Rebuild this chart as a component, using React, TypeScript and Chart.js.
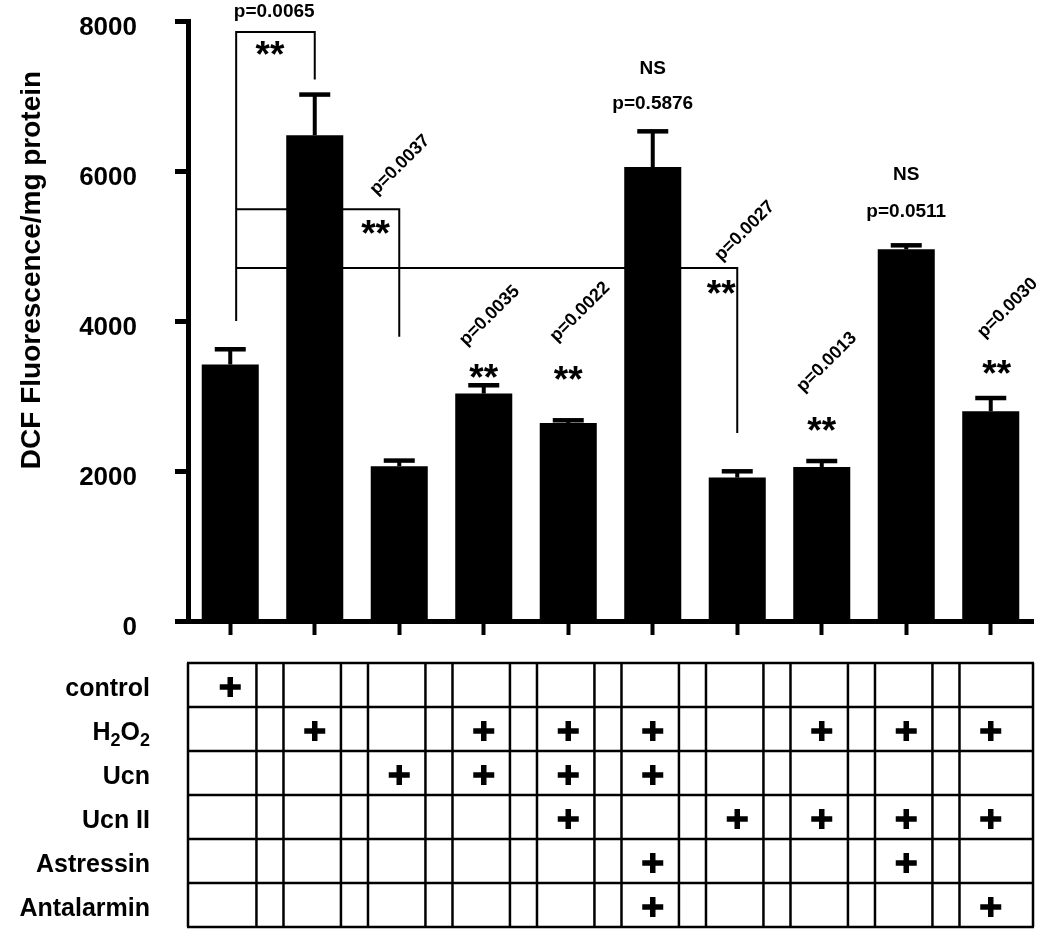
import React, { useEffect, useRef } from 'react';
import { Chart, registerables } from 'chart.js';

Chart.register(...registerables);

// ---------- data ----------
const categories = [
  'control',
  'H2O2',
  'Ucn',
  'H2O2+Ucn',
  'H2O2+Ucn+UcnII',
  'H2O2+Ucn+Astressin+Antalarmin',
  'UcnII',
  'H2O2+UcnII',
  'H2O2+UcnII+Astressin',
  'H2O2+UcnII+Antalarmin',
];
const means = [3420, 6476, 2063, 3032, 2640, 6053, 1912, 2053, 4956, 2796];
const sems = [203, 543, 76, 111, 36, 476, 84, 80, 53, 177];
const yTickValues = [0, 2000, 4000, 6000, 8000];
const yTitle = 'DCF Fluorescence/mg protein';

const rowLabels = ['control', 'H2O2', 'Ucn', 'Ucn II', 'Astressin', 'Antalarmin'];
const controlRow = [1, 0, 0, 0, 0, 0, 0, 0, 0, 0];
const h2o2Row = [0, 1, 0, 1, 1, 1, 0, 1, 1, 1];
const ucnRow = [0, 0, 1, 1, 1, 1, 0, 0, 0, 0];
const ucn2Row = [0, 0, 0, 0, 1, 0, 1, 1, 1, 1];
const astressinRow = [0, 0, 0, 0, 0, 1, 0, 0, 1, 0];
const antalarminRow = [0, 0, 0, 0, 0, 1, 0, 0, 0, 1];
const treatmentRows = [controlRow, h2o2Row, ucnRow, ucn2Row, astressinRow, antalarminRow];

// annotations: "at" = category index (fractional), "value" = y in data units
const pRotated = [
  { text: 'p=0.0037', at: 2.01, value: 6080 },
  { text: 'p=0.0035', at: 3.07, value: 4070 },
  { text: 'p=0.0022', at: 4.14, value: 4120 },
  { text: 'p=0.0027', at: 6.09, value: 5200 },
  { text: 'p=0.0013', at: 7.06, value: 3450 },
  { text: 'p=0.0030', at: 9.2, value: 4173 },
];
const pFlat = [
  { text: 'p=0.0065', at: 0.52, value: 8120 },
  { text: 'NS', at: 5.0, value: 7360 },
  { text: 'p=0.5876', at: 5.0, value: 6893 },
  { text: 'NS', at: 8.0, value: 5947 },
  { text: 'p=0.0511', at: 8.0, value: 5453 },
];
const stars = [
  { at: 0.47, value: 7640 },
  { at: 1.72, value: 5253 },
  { at: 5.81, value: 4453 },
  { at: 3.0, value: 3333 },
  { at: 4.0, value: 3307 },
  { at: 7.0, value: 2627 },
  { at: 9.07, value: 3387 },
];
const brackets = [
  [[0.07, 4000], [0.07, 7853], [1, 7853], [1, 7220]],
  [[0.07, 5490], [2, 5490], [2, 3790]],
  [[0.07, 4707], [6, 4707], [6, 2507]],
];

const FONT = "'Liberation Sans', Arial, Helvetica, sans-serif";

const overlayPlugin = {
  id: 'overlay',
  afterDatasetsDraw(chart: any) {
    const ctx = chart.ctx;
    const xs = chart.scales.x;
    const ys = chart.scales.y;
    const step = xs.getPixelForValue(1) - xs.getPixelForValue(0);
    const px = (idx: number) => xs.getPixelForValue(0) + idx * step;
    const py = (v: number) => ys.getPixelForValue(v);

    ctx.save();
    // error bars
    const meta = chart.getDatasetMeta(0);
    ctx.strokeStyle = '#000';
    ctx.lineCap = 'butt';
    meta.data.forEach((bar: any, i: number) => {
      const x = bar.x;
      const yTop = py(means[i]);
      const yErr = py(means[i] + sems[i]);
      ctx.lineWidth = 4;
      ctx.beginPath();
      ctx.moveTo(x, yTop);
      ctx.lineTo(x, yErr);
      ctx.stroke();
      ctx.lineWidth = 4.5;
      ctx.beginPath();
      ctx.moveTo(x - 15.5, yErr);
      ctx.lineTo(x + 15.5, yErr);
      ctx.stroke();
    });

    // brackets
    ctx.lineWidth = 2;
    brackets.forEach((pts) => {
      ctx.beginPath();
      pts.forEach((p, k) => {
        const X = px(p[0]);
        const Y = py(p[1]);
        if (k === 0) ctx.moveTo(X, Y);
        else ctx.lineTo(X, Y);
      });
      ctx.stroke();
    });

    ctx.fillStyle = '#000';
    // flat labels
    ctx.font = `bold 19px ${FONT}`;
    ctx.textAlign = 'center';
    ctx.textBaseline = 'middle';
    pFlat.forEach((l) => ctx.fillText(l.text, px(l.at), py(l.value)));

    // rotated labels
    ctx.font = `bold 18px ${FONT}`;
    pRotated.forEach((l) => {
      ctx.save();
      ctx.translate(px(l.at), py(l.value));
      ctx.rotate(-Math.PI / 4);
      ctx.fillText(l.text, 0, 0);
      ctx.restore();
    });

    // stars
    ctx.font = `bold 37px ${FONT}`;
    ctx.textBaseline = 'alphabetic';
    const m = ctx.measureText('**');
    const shift = (m.actualBoundingBoxAscent - m.actualBoundingBoxDescent) / 2;
    stars.forEach((s) => ctx.fillText('**', px(s.at), py(s.value) + shift));
    ctx.restore();
  },
  afterDraw(chart: any) {
    const ctx = chart.ctx;
    const xs = chart.scales.x;
    const area = chart.chartArea;
    const step = xs.getPixelForValue(1) - xs.getPixelForValue(0);
    const top = 663;
    const rowH = 44;
    const nRows = rowLabels.length;
    const bottom = top + rowH * nRows;

    ctx.save();
    ctx.strokeStyle = '#000';
    ctx.lineWidth = 2.5;
    // horizontal lines
    for (let r = 0; r <= nRows; r++) {
      const y = top + r * rowH;
      ctx.beginPath();
      ctx.moveTo(area.left - 1, y);
      ctx.lineTo(area.right + 1, y);
      ctx.stroke();
    }
    // vertical lines
    const vx: number[] = [area.left, area.right];
    categories.forEach((_, i) => {
      const c = xs.getPixelForValue(i);
      if (i > 0) vx.push(c - 0.37 * step);
      if (i < categories.length - 1) vx.push(c + 0.31 * step);
    });
    vx.forEach((x) => {
      ctx.beginPath();
      ctx.moveTo(x, top);
      ctx.lineTo(x, bottom);
      ctx.stroke();
    });

    // plus signs
    ctx.lineWidth = 5.5;
    treatmentRows.forEach((row, r) => {
      const cy = top + r * rowH + rowH / 2 + 2;
      row.forEach((on, i) => {
        if (!on) return;
        const cx = xs.getPixelForValue(i);
        ctx.beginPath();
        ctx.moveTo(cx - 10.5, cy);
        ctx.lineTo(cx + 10.5, cy);
        ctx.moveTo(cx, cy - 10);
        ctx.lineTo(cx, cy + 10);
        ctx.stroke();
      });
    });

    // row labels
    ctx.fillStyle = '#000';
    ctx.textBaseline = 'alphabetic';
    const labelRight = 150;
    rowLabels.forEach((lab, r) => {
      const base = top + r * rowH + rowH / 2 + 11;
      if (lab === 'H2O2') {
        const parts: [string, boolean][] = [['H', false], ['2', true], ['O', false], ['2', true]];
        const big = `bold 25px ${FONT}`;
        const small = `bold 18px ${FONT}`;
        let w = 0;
        parts.forEach(([t, sub]) => {
          ctx.font = sub ? small : big;
          w += ctx.measureText(t).width;
        });
        let x = labelRight - w;
        ctx.textAlign = 'left';
        parts.forEach(([t, sub]) => {
          ctx.font = sub ? small : big;
          ctx.fillText(t, x, base + (sub ? 6 : 0));
          x += ctx.measureText(t).width;
        });
      } else {
        ctx.font = `bold 25px ${FONT}`;
        ctx.textAlign = 'right';
        ctx.fillText(lab, labelRight, base);
      }
    });

    // y axis title
    ctx.save();
    ctx.translate(32, 270);
    ctx.rotate(-Math.PI / 2);
    ctx.font = `bold 28px ${FONT}`;
    ctx.textAlign = 'center';
    ctx.textBaseline = 'middle';
    ctx.fillText(yTitle, 0, 0);
    ctx.restore();

    ctx.restore();
  },
};

export default function App() {
  const ref = useRef<HTMLCanvasElement | null>(null);

  useEffect(() => {
    if (!ref.current) return;
    const chart = new Chart(ref.current, {
      type: 'bar',
      data: {
        labels: categories,
        datasets: [
          {
            data: means,
            backgroundColor: '#000',
            borderWidth: 0,
            barPercentage: 0.675,
            categoryPercentage: 1,
          },
        ],
      },
      options: {
        animation: false,
        responsive: false,
        devicePixelRatio: 1,
        events: [],
        layout: { padding: { left: 0, top: 21, right: 17, bottom: 0 } },
        plugins: {
          legend: { display: false },
          tooltip: { enabled: false },
          title: { display: false },
        },
        scales: {
          x: {
            type: 'category',
            grid: {
              offset: false,
              drawOnChartArea: false,
              drawTicks: true,
              tickLength: 14,
              tickWidth: 4,
              tickColor: '#000',
            },
            border: { display: true, width: 5, color: '#000' },
            ticks: { display: false },
            afterFit: (s: any) => {
              s.height = 945 - 621;
              s.paddingLeft = 0;
              s.paddingRight = 0;
            },
          },
          y: {
            min: 0,
            max: 8000,
            afterBuildTicks: (s: any) => {
              s.ticks = yTickValues.map((v) => ({ value: v }));
            },
            grid: {
              drawOnChartArea: false,
              drawTicks: true,
              tickLength: 13,
              tickWidth: 5,
              tickColor: '#000',
            },
            border: { display: true, width: 5, color: '#000' },
            ticks: {
              padding: 38,
              labelOffset: 7,
              color: '#000',
              font: { family: FONT, weight: 'bold', size: 26 },
              callback: (v: any) => String(v),
            },
            afterFit: (s: any) => {
              s.width = 188;
              s.paddingTop = 0;
              s.paddingBottom = 0;
            },
          },
        },
      },
      plugins: [overlayPlugin],
    } as any);
    return () => chart.destroy();
  }, []);

  return (
    <div style={{ position: 'absolute', left: 0, top: 0, width: 1050, height: 945, background: '#fff' }}>
      <canvas ref={ref} width={1050} height={945} style={{ display: 'block', width: 1050, height: 945 }} />
    </div>
  );
}
